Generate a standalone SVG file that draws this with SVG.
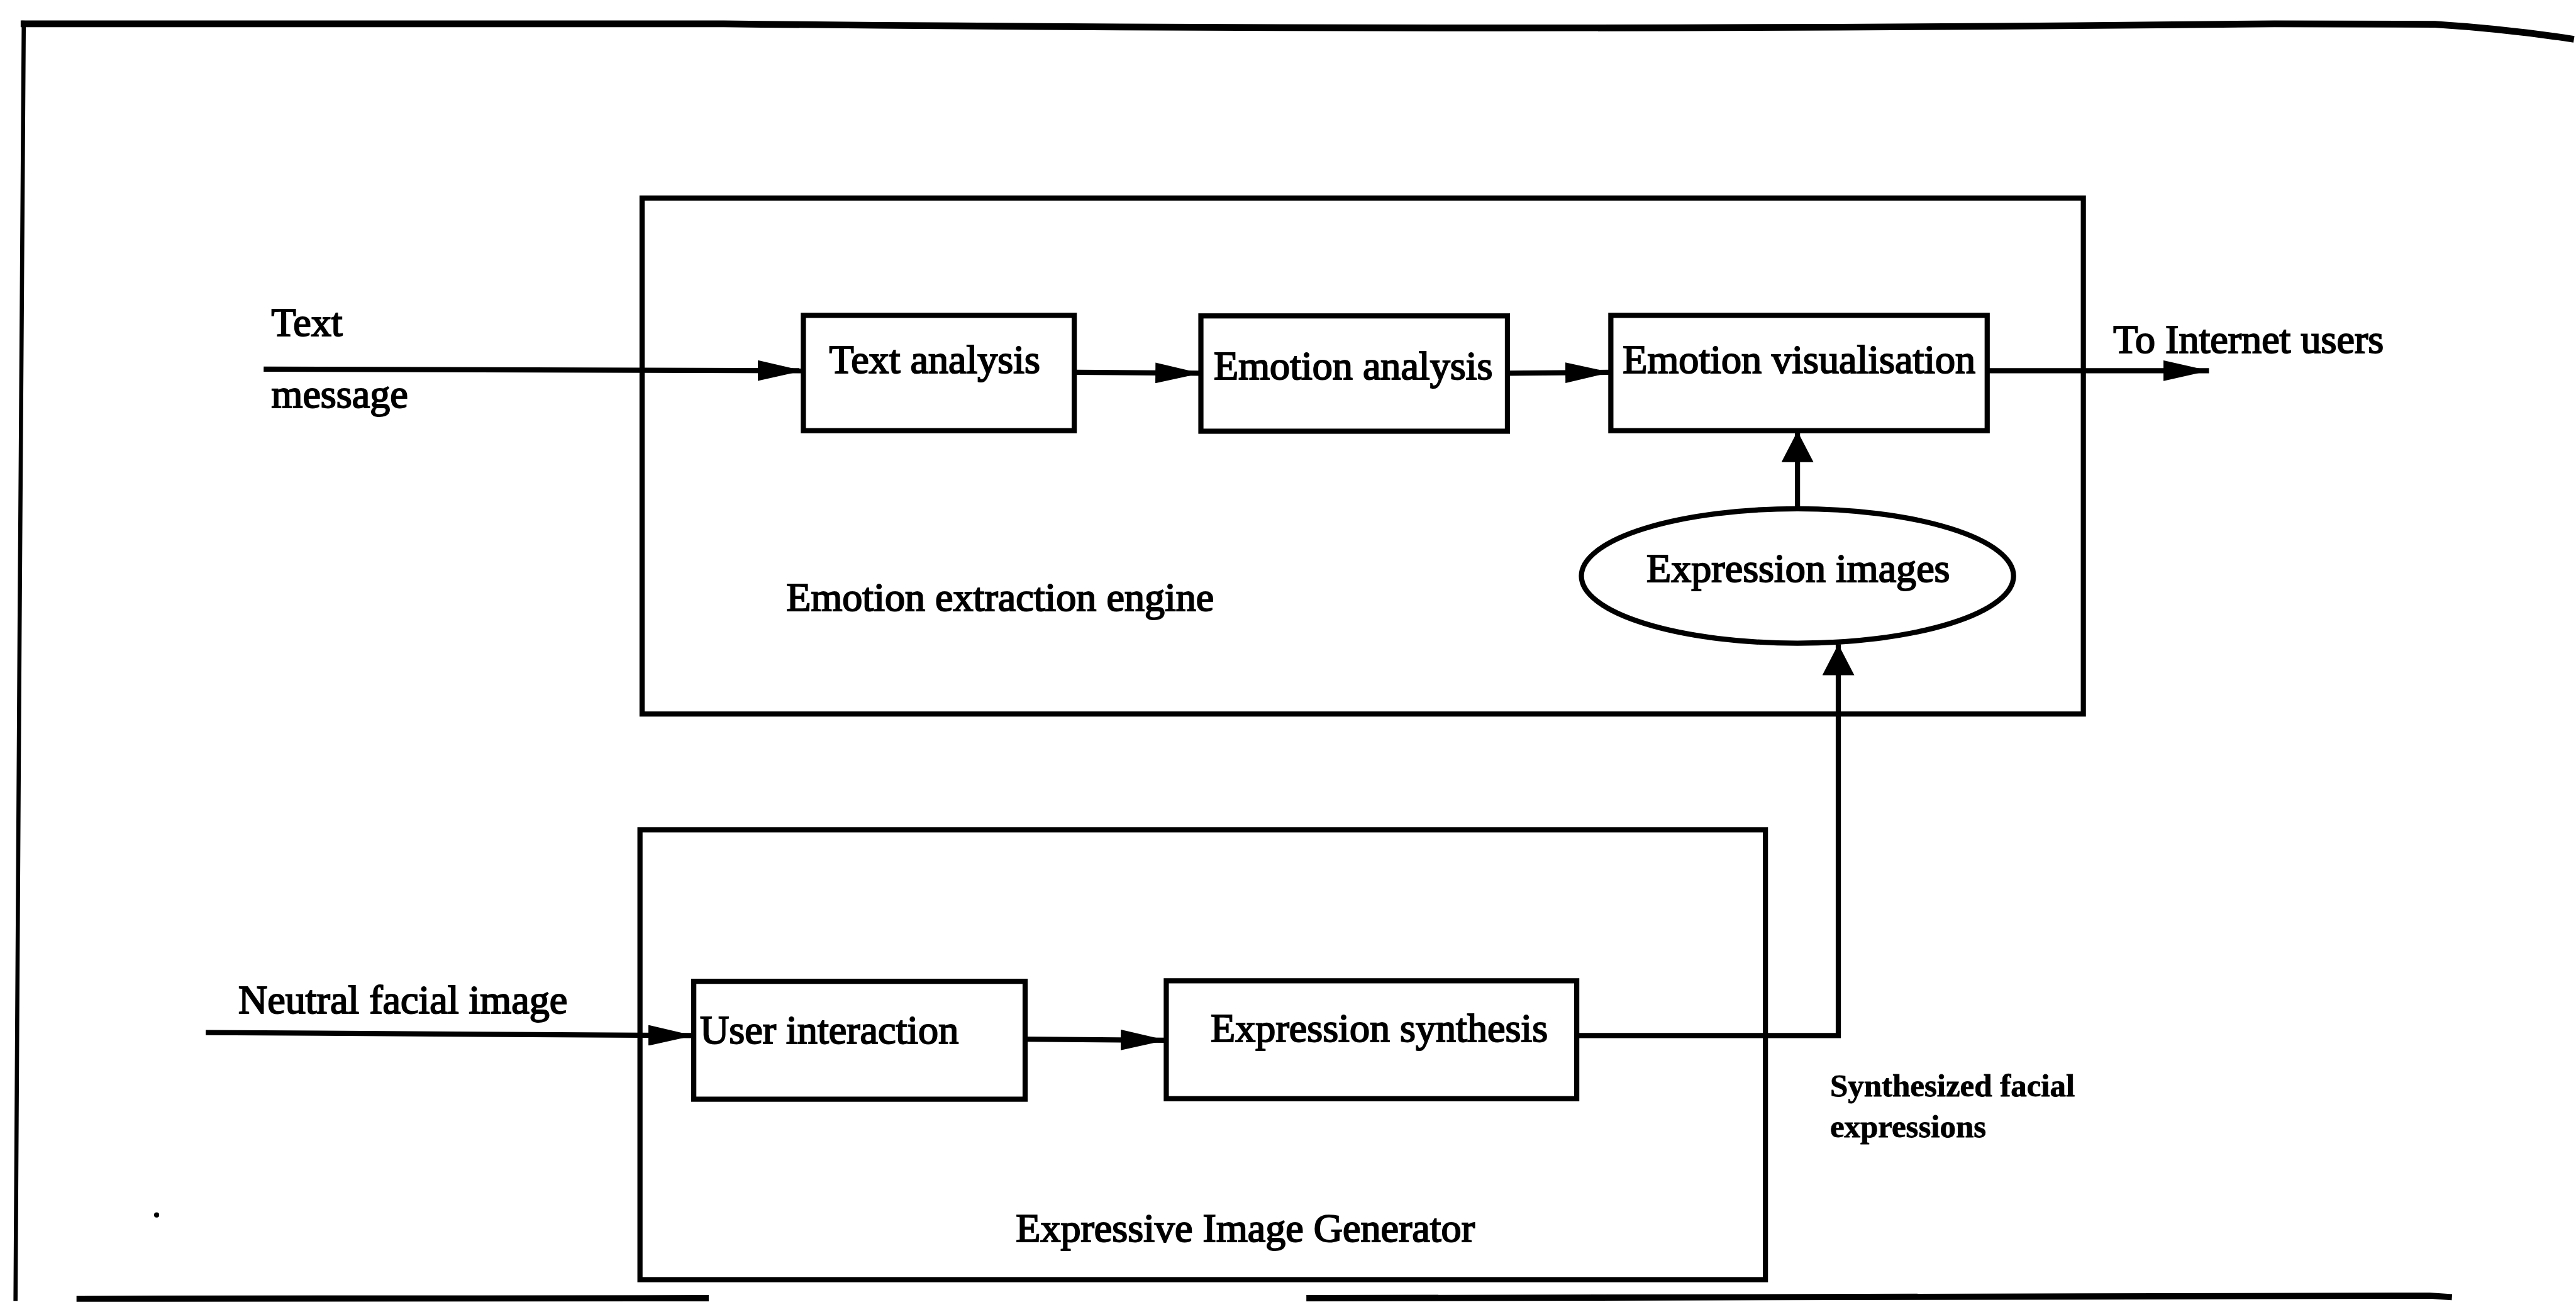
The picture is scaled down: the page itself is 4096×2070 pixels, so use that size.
<svg xmlns="http://www.w3.org/2000/svg" width="4096" height="2070" viewBox="0 0 4096 2070">
  <style>
    .box { fill: #fff; stroke: #000; stroke-width: 10; }
    .frame { fill: none; stroke: #000; stroke-linecap: butt; }
    .wire { fill: none; stroke: #000; stroke-width: 10; }
    .lbl { font-family: "Liberation Serif", "Times New Roman", serif; font-size: 78px; fill: #000; stroke: #000; stroke-width: 2.5; }
    .note { font-family: "Liberation Serif", "Times New Roman", serif; font-size: 62px; font-weight: bold; fill: #000; stroke: #000; stroke-width: 1; }
  </style>
  <defs>
    <marker id="arrowH" viewBox="0 0 88 40" markerWidth="88" markerHeight="40" refX="88" refY="20" orient="auto" markerUnits="userSpaceOnUse">
      <path d="M0,0 L88,20 L0,40 z" fill="#000"/>
    </marker>
    <marker id="arrowV" viewBox="0 0 60 62" markerWidth="60" markerHeight="62" refX="60" refY="31" orient="auto" markerUnits="userSpaceOnUse">
      <path d="M0,0 L60,31 L0,62 z" fill="#000"/>
    </marker>
  </defs>
  <rect width="4096" height="2070" fill="#fff"/>
  <g transform="scale(0.822)">
    <!-- page frame -->
    <g id="frame">
      <path class="frame" stroke-width="13" d="M40,46 L1400,46 Q2900,62 4400,46 L4710,47 Q4850,56 4979,76"/>
      <path class="frame" stroke-width="8" d="M46,40 L38,1200 L30,2516"/>
      <path class="frame" stroke-width="12" d="M148,2512 L1371,2511"/>
      <path class="frame" stroke-width="12" d="M2527,2511 L4700,2506 L4743,2509"/>
      <circle cx="303" cy="2350" r="5" fill="#000"/>
    </g>

    <!-- Emotion extraction engine -->
    <g id="engine">
      <rect class="box" x="1242" y="383" width="2788" height="998"/>
      <text class="lbl" x="1521" y="1181">Emotion extraction engine</text>
    </g>
    <g id="text-analysis">
      <rect class="box" x="1554" y="610" width="524" height="223"/>
      <text class="lbl" x="1604" y="722">Text analysis</text>
    </g>
    <g id="emotion-analysis">
      <rect class="box" x="2323" y="611" width="593" height="223"/>
      <text class="lbl" x="2348" y="733">Emotion analysis</text>
    </g>
    <g id="emotion-visualisation">
      <rect class="box" x="3116" y="610" width="728" height="223"/>
      <text class="lbl" x="3139" y="722">Emotion visualisation</text>
    </g>
    <g id="expression-images">
      <ellipse class="box" cx="3477" cy="1114" rx="418" ry="130"/>
      <text class="lbl" x="3185" y="1125">Expression images</text>
    </g>

    <!-- Expressive Image Generator -->
    <g id="generator">
      <rect class="box" x="1238" y="1605" width="2177" height="870"/>
      <text class="lbl" x="1965" y="2402">Expressive Image Generator</text>
    </g>
    <g id="user-interaction">
      <rect class="box" x="1342" y="1898" width="641" height="228"/>
      <text class="lbl" x="1354" y="2018">User interaction</text>
    </g>
    <g id="expression-synthesis">
      <rect class="box" x="2256" y="1897" width="794" height="228"/>
      <text class="lbl" x="2342" y="2015">Expression synthesis</text>
    </g>

    <!-- free labels -->
    <g id="input-text">
      <text class="lbl" x="525" y="650">Text</text>
      <text class="lbl" x="525" y="788">message</text>
    </g>
    <g id="input-face">
      <text class="lbl" x="461" y="1960">Neutral facial image</text>
    </g>
    <g id="output-users">
      <text class="lbl" x="4088" y="683">To Internet users</text>
    </g>
    <g id="synth-note">
      <text class="note" x="3540" y="2121">Synthesized facial</text>
      <text class="note" x="3540" y="2200">expressions</text>
    </g>

    <!-- connectors -->
    <g id="connectors">
      <path class="wire" d="M510,714 L1554,717" marker-end="url(#arrowH)"/>
      <path class="wire" d="M2078,720 L2323,722" marker-end="url(#arrowH)"/>
      <path class="wire" d="M2916,722 L3116,720" marker-end="url(#arrowH)"/>
      <path class="wire" d="M3844,717 L4273,717" marker-end="url(#arrowH)"/>
      <path class="wire" d="M3477,985 L3477,834" marker-end="url(#arrowV)"/>
      <path class="wire" d="M3050,2003 L3556,2003 L3556,1246" marker-end="url(#arrowV)"/>
      <path class="wire" d="M398,1997 L1342,2003" marker-end="url(#arrowH)"/>
      <path class="wire" d="M1983,2010 L2256,2012" marker-end="url(#arrowH)"/>
    </g>
  </g>
</svg>
